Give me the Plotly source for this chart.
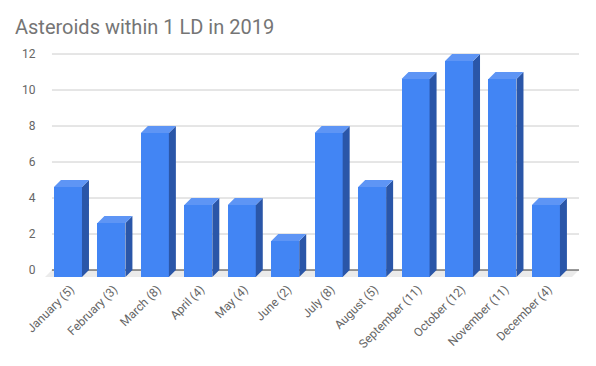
import plotly.graph_objects as go

months = ["January", "February", "March", "April", "May", "June", "July",
          "August", "September", "October", "November", "December"]
counts = [5, 3, 8, 4, 4, 2, 8, 5, 11, 12, 11, 4]
y_ticks = [0, 2, 4, 6, 8, 10, 12]
tick_labels = [f"{m} ({c})" for m, c in zip(months, counts)]

# pseudo-3D geometry (data units)
W = 0.644   # bar face width
DX = 0.161  # depth offset in x
DY = 0.389  # depth offset in y
X0, X1 = -0.53, 11.6  # back-plane extent
FRONT = "#4285F4"
SIDE = "#2A56A8"
TOP = "#5E95F5"

xs = list(range(len(counts)))

fig = go.Figure()

# front faces
fig.add_trace(go.Bar(
    x=[i - DX for i in xs], y=counts, base=[-DY] * len(counts), width=W,
    marker=dict(color=FRONT, line=dict(width=0)), hoverinfo="skip",
))

# side faces
sx, sy = [], []
for i, v in zip(xs, counts):
    r = i - DX + W / 2
    sx += [r, r, r + DX, r + DX, r, None]
    sy += [-DY, v - DY, v, 0, -DY, None]
fig.add_trace(go.Scatter(x=sx, y=sy, fill="toself", fillcolor=SIDE, mode="lines",
                         line=dict(width=0, color=SIDE), hoverinfo="skip"))

# top faces
tx, ty = [], []
for i, v in zip(xs, counts):
    l = i - DX - W / 2
    r = i - DX + W / 2
    tx += [l, r, r + DX, l + DX, l, None]
    ty += [v - DY, v - DY, v, v, v - DY, None]
fig.add_trace(go.Scatter(x=tx, y=ty, fill="toself", fillcolor=TOP, mode="lines",
                         line=dict(width=0, color=TOP), hoverinfo="skip"))

shapes = []
# floor
shapes.append(dict(type="path", xref="x", yref="y", layer="below",
                   path=f"M {X0},0 L {X1},0 L {X1 - DX},{-DY} L {X0 - DX},{-DY} Z",
                   fillcolor="#EBEBEB", line=dict(width=0)))
# gridlines
for t in y_ticks:
    shapes.append(dict(type="line", xref="x", yref="y", layer="below",
                       x0=X0, x1=X1, y0=t, y1=t,
                       line=dict(color="#333333" if t == 0 else "#CCCCCC", width=1)))

fig.update_layout(
    width=596, height=366,
    margin=dict(l=45, r=17, t=45, b=87),
    paper_bgcolor="white", plot_bgcolor="white",
    showlegend=False, bargap=0,
    shapes=shapes,
    title=dict(text="Asteroids within 1 LD in 2019", x=15 / 596, xanchor="left",
               xref="container", yref="container", y=1 - 27 / 366, yanchor="middle",
               font=dict(family="Roboto", size=20, color="#757575")),
    xaxis=dict(range=[-0.69, 11.6], tickvals=[i - 0.1 for i in xs], ticktext=tick_labels,
               tickangle=-45, showgrid=False, zeroline=False, showline=False,
               automargin=False,
               ticks="", tickfont=dict(family="Roboto", size=12, color="#666666")),
    yaxis=dict(range=[-0.5, 12.5], tickvals=y_ticks, showgrid=False, zeroline=False,
               showline=False, ticks="outside", ticklen=6, tickcolor="rgba(0,0,0,0)",
               automargin=False,
               tickfont=dict(family="Roboto", size=12, color="#666666")),
)

fig.write_html("out.html", config={"displayModeBar": False},
               post_script="document.body.style.margin='0';")
